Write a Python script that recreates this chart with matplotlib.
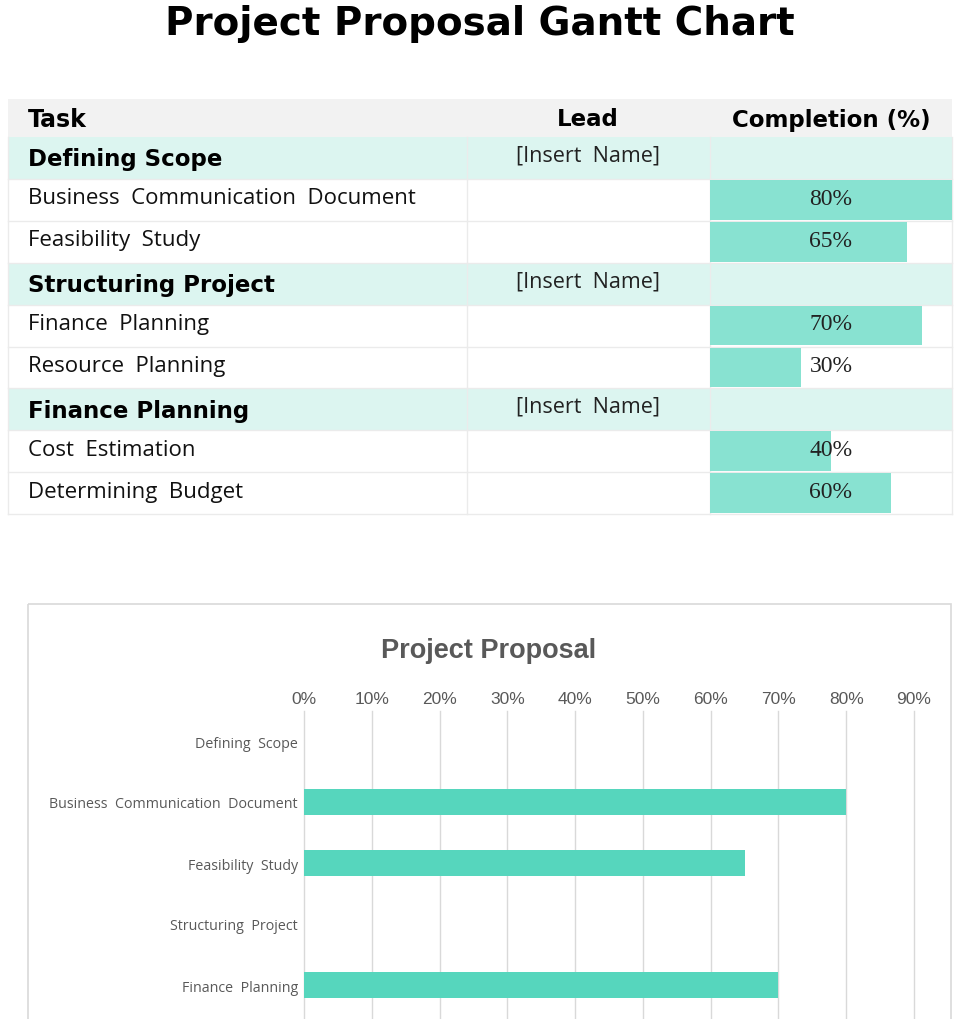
import numpy as np
import matplotlib
matplotlib.use("Agg")
import matplotlib.pyplot as plt
from matplotlib.patches import Rectangle
from matplotlib.ticker import PercentFormatter


tasks = ["Defining Scope", "Business Communication Document", "Feasibility Study",
         "Structuring Project", "Finance Planning", "Resource Planning",
         "Finance Planning", "Cost Estimation", "Determining Budget"]
is_group = [True, False, False, True, False, False, True, False, False]
leads = ["[Insert Name]", "", "", "[Insert Name]", "", "", "[Insert Name]", "", ""]
completion = [None, 0.80, 0.65, None, 0.70, 0.30, None, 0.40, 0.60]
headers = ["Task", "Lead", "Completion (%)"]
pct_ticks = [0, 0.1, 0.2, 0.3, 0.4, 0.5, 0.6, 0.7, 0.8, 0.9]

W, H = 961, 1020
fig = plt.figure(figsize=(W / 100, H / 100), dpi=100)
fig.patch.set_facecolor("white")

# background axes in pixel units for the layout
bg = fig.add_axes([0, 0, 1, 1])
bg.set_xlim(0, W)
bg.set_ylim(H, 0)
bg.axis("off")

bg.text(480, 24, "Project Proposal Gantt Chart", ha="center", va="center",
        fontsize=28, fontweight="bold", family="DejaVu Sans", color="black")

# ---- table ----
tx0, tx1 = 8, 952
col1, col2 = 467, 710
head_top, row0, row_h = 100, 138, 41.9
line_c = "#ebebeb"
mint = "#dcf5f0"

bg.add_patch(Rectangle((tx0, head_top), tx1 - tx0, row0 - head_top, fc="#f2f2f2", ec="none"))
bg.text(28, 120, headers[0], ha="left", va="center", fontsize=17, fontweight="bold",
        family="DejaVu Sans")
bg.text(588, 120, headers[1], ha="center", va="center", fontsize=16.5, fontweight="bold",
        family="DejaVu Sans")
bg.text(831, 120, headers[2], ha="center", va="center", fontsize=16.5, fontweight="bold",
        family="DejaVu Sans")

for i, name in enumerate(tasks):
    top = row0 + i * row_h
    mid = top + row_h / 2
    if is_group[i]:
        bg.add_patch(Rectangle((tx0, top), tx1 - tx0, row_h, fc=mint, ec="none"))
        bg.text(28, mid + 1, name, ha="left", va="center", fontsize=16.5,
                fontweight="bold", family="DejaVu Sans")
        bg.text(588, mid - 3, leads[i].replace(" ", "  "), ha="center", va="center",
                fontsize=15.5, family="Open Sans", color="#222222")
    else:
        bg.text(28, mid - 2, name.replace(" ", "  "), ha="left", va="center",
                fontsize=16, family="Open Sans", color="#111111")
    bg.plot([tx0, tx1], [top + row_h, top + row_h], color=line_c, lw=1)

bg.plot([col1, col1], [row0, row0 + 9 * row_h], color=line_c, lw=1)
bg.plot([col2, col2], [row0, row0 + 9 * row_h], color=line_c, lw=1)
bg.plot([tx0, tx0], [row0, row0 + 9 * row_h], color=line_c, lw=1)
bg.plot([tx1, tx1], [row0, row0 + 9 * row_h], color=line_c, lw=1)

# completion bars inside the last column
tbl_bottom = row0 + 9 * row_h
cax = fig.add_axes([col2 / W, (H - tbl_bottom) / H, (tx1 - col2) / W, 9 * row_h / H])
cax.set_xlim(0, 0.8)
cax.set_ylim(8.5, -0.5)
cax.axis("off")
rows = [i for i in range(len(tasks)) if completion[i] is not None]
vals = [completion[i] for i in rows]
cax.barh(rows, vals, height=0.95, color="#88e2d1")
for r, v in zip(rows, vals):
    cax.text(0.4, r - 0.04, f"{int(round(v * 100))}%", ha="center", va="center",
             fontsize=17, family="Liberation Serif", color="#222222")

# ---- chart ----
bg.add_patch(Rectangle((27.5, 604.5), 923.5, 600, fc="none", ec="#d9d9d9", lw=1.2))
bg.text(489, 651, "Project Proposal", ha="center", va="center", fontsize=19.5,
        fontweight="bold", family="Liberation Sans", color="#595959")

band = 61
ax_top = 711.5
ax_bottom = ax_top + band * len(tasks)
ax = fig.add_axes([304 / W, (H - ax_bottom) / H, 610 / W, band * len(tasks) / H])
ypos = np.arange(len(tasks))
chart_vals = [v if v is not None else 0 for v in completion]
ax.barh(ypos, chart_vals, height=0.41, color="#56d6bd", zorder=3)
ax.set_xlim(0, 0.9)
ax.set_ylim(len(tasks) - 0.5, -0.5)
ax.set_xticks(pct_ticks)
ax.xaxis.set_major_formatter(PercentFormatter(1.0, decimals=0))
ax.xaxis.tick_top()
ax.set_yticks(ypos)
ax.set_yticklabels([t.replace(" ", "  ") for t in tasks])
ax.tick_params(axis="x", length=0, pad=3.5, labelsize=12.5, labelcolor="#595959")
ax.tick_params(axis="y", length=0, pad=4.5, labelsize=10.3, labelcolor="#595959")
for lab in ax.get_xticklabels():
    lab.set_family("Liberation Sans")
for lab in ax.get_yticklabels():
    lab.set_family("Open Sans")
ax.grid(axis="x", color="#d9d9d9", lw=1, zorder=0)
for gl in ax.get_xgridlines():
    gl.set_clip_on(False)
for s in ax.spines.values():
    s.set_visible(False)
ax.set_facecolor("none")

fig.savefig("out.png", dpi=100)
